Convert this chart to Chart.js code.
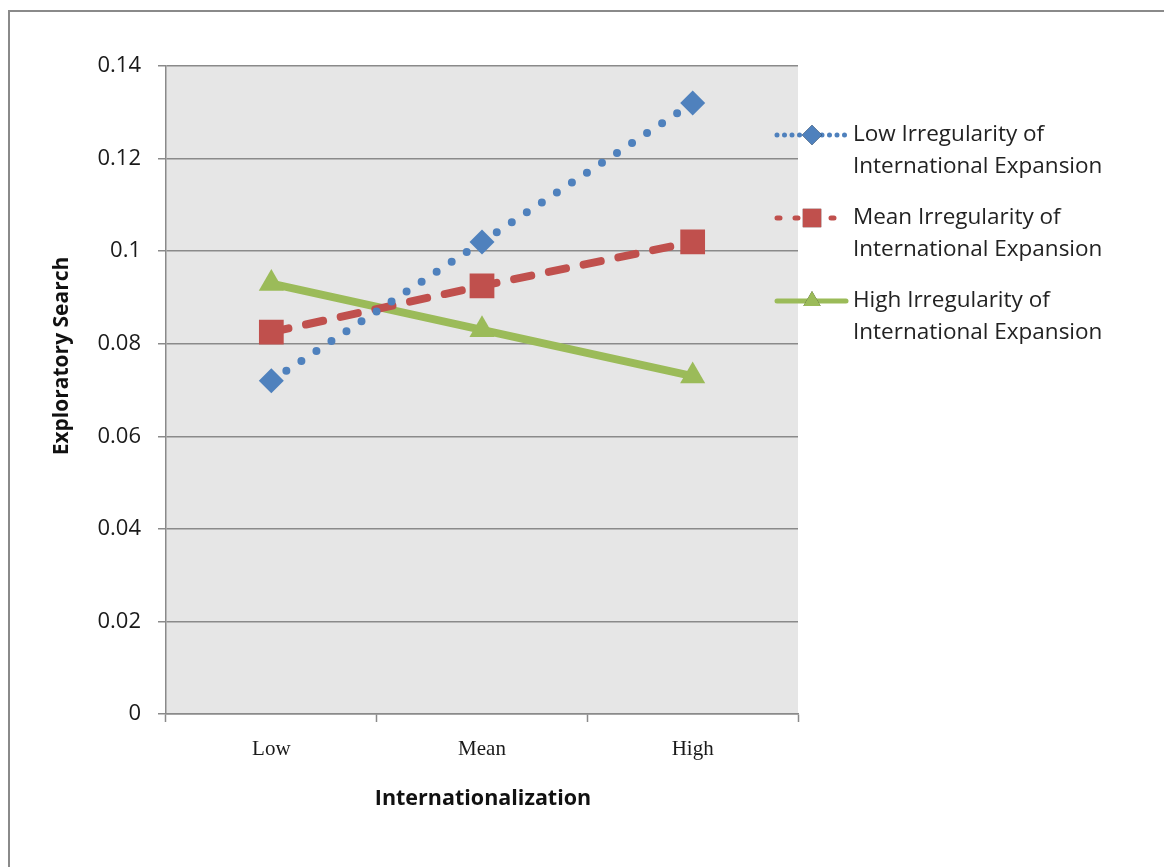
<!DOCTYPE html>
<html>
<head>
<meta charset="utf-8">
<script src="https://cdn.jsdelivr.net/npm/chart.js@4.4.1/dist/chart.umd.min.js"></script>
<style>
  html, body { margin: 0; padding: 0; background: #fff; }
  #wrap { position: relative; width: 1164px; height: 867px; overflow: hidden; }
  #frame { position: absolute; left: 8px; top: 10px; width: 1200px; height: 900px;
           border: 2px solid #8a8a8a; box-sizing: border-box; }
  canvas { position: absolute; left: 0; top: 0; }
</style>
</head>
<body>
<div id="wrap">
  <div id="frame"></div>
  <canvas id="c" width="1164" height="867"></canvas>
</div>
<script>
// Internationalization levels on the x axis
const categories = ['Low', 'Mean', 'High'];

// Exploratory search by irregularity of international expansion
const lowIrregularity  = [0.072, 0.102, 0.132];
const meanIrregularity = [0.0825, 0.0925, 0.102];
const highIrregularity = [0.093, 0.083, 0.073];

const seriesNames = [
  ['Low Irregularity of', 'International Expansion'],
  ['Mean Irregularity of', 'International Expansion'],
  ['High Irregularity of', 'International Expansion']
];

const yTicks = [0, 0.02, 0.04, 0.06, 0.08, 0.1, 0.12, 0.14];

const yTitle = 'Exploratory Search';
const xTitle = 'Internationalization';

const sansFont = '"Open Sans", "Noto Sans", sans-serif';
const serifFont = '"Liberation Serif", "DejaVu Serif", serif';

// Grey plot background
const plotBackground = {
  id: 'plotBackground',
  beforeDraw(chart) {
    const { ctx, chartArea: a } = chart;
    ctx.save();
    ctx.fillStyle = '#e6e6e6';
    ctx.fillRect(a.left, a.top, a.right - a.left, a.bottom - a.top);
    ctx.restore();
  }
};

// Axis titles
const axisTitles = {
  id: 'axisTitles',
  afterDraw(chart) {
    const { ctx, chartArea: a } = chart;
    ctx.save();
    ctx.fillStyle = '#111';
    ctx.textAlign = 'center';
    ctx.textBaseline = 'middle';
    ctx.font = 'bold 21.5px ' + sansFont;
    ctx.fillText(xTitle, (a.left + a.right) / 2 + 1, a.bottom + 85);
    ctx.translate(62, a.top + 290);
    ctx.rotate(-Math.PI / 2);
    ctx.font = 'bold 21px ' + sansFont;
    ctx.fillText(yTitle, 0, 0);
    ctx.restore();
  }
};

// Legend on the right with two-line labels
const sideLegend = {
  id: 'sideLegend',
  afterDraw(chart) {
    const { ctx } = chart;
    const x0 = 777, x1 = 846, textX = 853;
    const firstY = 135, entryGap = 83, lineGap = 32;
    ctx.save();
    chart.data.datasets.forEach((ds, i) => {
      const y = firstY + i * entryGap;
      ctx.strokeStyle = ds.borderColor;
      ctx.lineWidth = ds.legendLineWidth;
      ctx.lineCap = 'round';
      ctx.setLineDash(ds.legendDash);
      ctx.beginPath();
      ctx.moveTo(x0, y);
      ctx.lineTo(x1, y);
      ctx.stroke();
      ctx.setLineDash([]);
      Chart.helpers.drawPoint(ctx, {
        pointStyle: ds.pointStyle,
        radius: ds.legendRadius,
        rotation: 0,
        borderWidth: 0
      }, 812, y);
      ctx.fillStyle = ds.pointBackgroundColor;
      ctx.fill();
      ctx.fillStyle = '#222';
      ctx.font = '22.5px ' + sansFont;
      ctx.textBaseline = 'middle';
      ctx.textAlign = 'left';
      seriesNames[i].forEach((line, k) => ctx.fillText(line, textX, y + k * lineGap));
    });
    ctx.restore();
  }
};

const blue = '#4f81bd', red = '#c0504d', green = '#9bbb59';

new Chart(document.getElementById('c'), {
  type: 'line',
  data: {
    labels: categories,
    datasets: [
      {
        label: seriesNames[0].join(' '),
        data: lowIrregularity,
        borderColor: blue, pointBackgroundColor: blue, pointBorderColor: blue,
        borderWidth: 8, borderDash: [0, 18], borderCapStyle: 'round',
        pointStyle: 'rectRot', pointRadius: 12.5, pointBorderWidth: 0,
        legendLineWidth: 5, legendDash: [0, 7.5], legendRadius: 10
      },
      {
        label: seriesNames[1].join(' '),
        data: meanIrregularity,
        borderColor: red, pointBackgroundColor: red, pointBorderColor: red,
        borderWidth: 8, borderDash: [17.5, 18], borderCapStyle: 'round',
        pointStyle: 'rect', pointRadius: 17.5, pointBorderWidth: 0,
        legendLineWidth: 5, legendDash: [3, 15], legendRadius: 13
      },
      {
        label: seriesNames[2].join(' '),
        data: highIrregularity,
        borderColor: green, pointBackgroundColor: green, pointBorderColor: green,
        borderWidth: 8, borderCapStyle: 'round',
        pointStyle: 'triangle', pointRadius: 14.5, pointBorderWidth: 0,
        legendLineWidth: 5, legendDash: [], legendRadius: 10
      }
    ]
  },
  options: {
    responsive: false,
    animation: false,
    devicePixelRatio: 1,
    layout: { padding: { left: 0, right: 366, top: 66, bottom: 27 } },
    plugins: { legend: { display: false }, tooltip: { enabled: false } },
    elements: { line: { tension: 0 } },
    scales: {
      x: {
        offset: true,
        grid: { offset: true, drawOnChartArea: false, color: '#8a8a8a', tickLength: 8, tickWidth: 1.5 },
        border: { color: '#8a8a8a', width: 1.5 },
        ticks: { color: '#1a1a1a', padding: 15, font: { family: serifFont, size: 21 } },
        afterFit(scale) { scale.height = 126; }
      },
      y: {
        min: 0, max: 0.14,
        afterBuildTicks(scale) { scale.ticks = yTicks.map(v => ({ value: v })); },
        grid: { color: '#8a8a8a', lineWidth: 1.5, tickLength: 8 },
        border: { color: '#8a8a8a', width: 1.5 },
        ticks: {
          color: '#1a1a1a', padding: 17,
          font: { family: sansFont, size: 22 },
          callback: v => String(Math.round(v * 100) / 100)
        },
        afterFit(scale) { scale.width = 166; }
      }
    }
  },
  plugins: [plotBackground, axisTitles, sideLegend]
});
</script>
</body>
</html>
